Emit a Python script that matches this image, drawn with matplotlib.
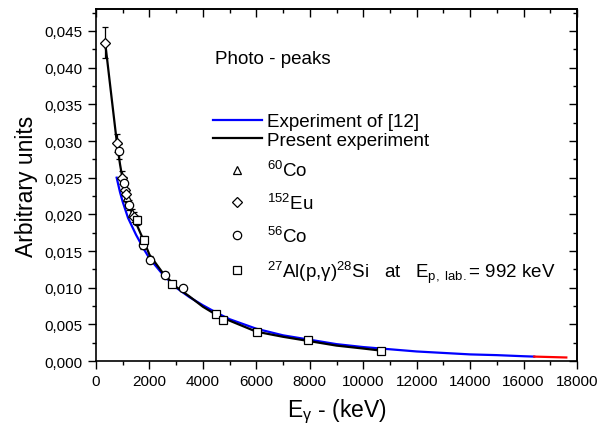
import matplotlib
matplotlib.use("Agg")
import matplotlib.pyplot as plt
from matplotlib.lines import Line2D
from matplotlib.ticker import FuncFormatter, MultipleLocator

plt.rcParams['font.family'] = ['Liberation Sans', 'DejaVu Sans']
plt.rcParams['mathtext.fontset'] = 'custom'
plt.rcParams['mathtext.rm'] = 'Liberation Sans'
plt.rcParams['mathtext.it'] = 'Liberation Sans'
plt.rcParams['mathtext.default'] = 'regular'

# ---- data ----
present_x = [344, 590, 780, 900, 1000, 1200, 1500, 1800, 2000, 2500, 3000, 3500,
             4000, 4500, 5000, 6000, 7000, 8000, 9000, 10000, 10700]
present_y = [0.0434, 0.0357, 0.0298, 0.0268, 0.0247, 0.0216, 0.0188, 0.0163, 0.0145,
             0.0120, 0.0101, 0.0088, 0.0074, 0.0063, 0.0055, 0.0040, 0.0033, 0.0027,
             0.0021, 0.0017, 0.0014]

ref12_x = [773, 900, 1000, 1200, 1500, 1800, 2000, 2500, 3000, 3500, 4000, 4500, 5000,
           6000, 7000, 8000, 9000, 10000, 11000, 12000, 13000, 14000, 15000, 16000, 16400]
ref12_y = [0.0250, 0.0230, 0.0217, 0.0195, 0.0172, 0.0152, 0.0140, 0.0118, 0.0100,
           0.0087, 0.0076, 0.0066, 0.0057, 0.0044, 0.0035, 0.0029, 0.0023, 0.0019,
           0.0016, 0.0013, 0.0011, 0.0009, 0.0008, 0.00065, 0.0006]

extrap_x = [16400, 17000, 17600]
extrap_y = [0.00060, 0.00054, 0.00048]

co60_x = [1173, 1332]
co60_y = [0.0223, 0.0202]
co60_err = [0.0006, 0.0005]

eu152_x = [344, 779, 964, 1086, 1112, 1408]
eu152_y = [0.0434, 0.0297, 0.0250, 0.0233, 0.0228, 0.0196]
eu152_err = [0.0021, 0.0012, 0.0009, 0.0008, 0.0008, 0.0007]

co56_x = [847, 1038, 1238, 1771, 2015, 2598, 3253]
co56_y = [0.0286, 0.0243, 0.0213, 0.0158, 0.0138, 0.0117, 0.0099]
co56_err = [0.0010, 0.0008, 0.0007, 0.0005, 0.0005, 0.0004, 0.0003]

al_x = [1523, 1779, 2839, 4497, 4742, 6020, 7931, 10680]
al_y = [0.0192, 0.0165, 0.0105, 0.0064, 0.0056, 0.0040, 0.0028, 0.0014]
al_err = [0.0006, 0.0005, 0.0003, 0.0002, 0.0002, 0.00015, 0.0001, 0.0001]

x_ticks = [0, 2000, 4000, 6000, 8000, 10000, 12000, 14000, 16000, 18000]
y_ticks = [0.000, 0.005, 0.010, 0.015, 0.020, 0.025, 0.030, 0.035, 0.040, 0.045]

# ---- figure ----
fig = plt.figure(figsize=(6.04, 4.27), dpi=100)
ax = fig.add_axes([96/604, 1-362/427, (577-96)/604, (362-10)/427])

ax.plot(ref12_x, ref12_y, color='#0000ff', lw=1.6, zorder=2)
ax.plot(extrap_x, extrap_y, color='#ff0000', lw=1.6, zorder=2)
ax.plot(present_x, present_y, color='black', lw=1.6, zorder=3)

mk = dict(mfc='white', mec='black', mew=0.9, ecolor='black', elinewidth=0.9,
          capsize=2.5, capthick=0.9, ls='none', zorder=4)
ax.errorbar(co60_x, co60_y, yerr=co60_err, marker='^', ms=5.5, **mk)
ax.errorbar(eu152_x, eu152_y, yerr=eu152_err, marker='D', ms=4.8, **mk)
ax.errorbar(co56_x, co56_y, yerr=co56_err, marker='o', ms=6, **mk)
ax.errorbar(al_x, al_y, yerr=al_err, marker='s', ms=5.5, **mk)

ax.set_xlim(0, 18000)
ax.set_ylim(0, 0.048)
ax.set_xticks(x_ticks)
ax.set_yticks(y_ticks)
ax.xaxis.set_minor_locator(MultipleLocator(1000))
ax.yaxis.set_minor_locator(MultipleLocator(0.0025))
ax.yaxis.set_major_formatter(FuncFormatter(lambda v, p: f'{v:.3f}'.replace('.', ',')))
ax.tick_params(which='major', direction='out', length=6, width=1.0, labelsize=11)
ax.tick_params(which='minor', direction='out', length=3, width=1.0)
for s in ax.spines.values():
    s.set_linewidth(1.2)

top = ax.secondary_xaxis('top')
top.set_xticks(x_ticks)
top.xaxis.set_minor_locator(MultipleLocator(1000))
top.tick_params(which='major', direction='in', length=6, width=1.0, labeltop=False)
top.tick_params(which='minor', direction='in', length=3, width=1.0)
right = ax.secondary_yaxis('right')
right.set_yticks(y_ticks)
right.yaxis.set_minor_locator(MultipleLocator(0.0025))
right.tick_params(which='major', direction='in', length=6, width=1.0, labelright=False)
right.tick_params(which='minor', direction='in', length=3, width=1.0)
top.spines['top'].set_linewidth(1.2)
right.spines['right'].set_linewidth(1.2)

ax.set_xlabel(r'E$_{\gamma}$ - (keV)', fontsize=16.5, labelpad=6)
ax.set_ylabel('Arbitrary units', fontsize=16.5, labelpad=5)

fig.text(215/604, 1-60/427, 'Photo - peaks', fontsize=13.5, va='center', ha='left')

h1 = [Line2D([], [], color='#0000ff', lw=1.6), Line2D([], [], color='black', lw=1.6)]
leg1 = ax.legend(h1, ['Experiment of [12]', 'Present experiment'], frameon=False,
                 fontsize=13.5, handlelength=2.6, handletextpad=0.27, labelspacing=0.07,
                 borderpad=0, borderaxespad=0, loc='upper left',
                 bbox_to_anchor=(213/604, 1-114/427), bbox_transform=fig.transFigure)
ax.add_artist(leg1)

mkl = dict(ls='none', mfc='white', mec='black', mew=0.9)
h2 = [Line2D([], [], marker='^', ms=6, **mkl),
      Line2D([], [], marker='D', ms=5, **mkl),
      Line2D([], [], marker='o', ms=6, **mkl),
      Line2D([], [], marker='s', ms=6, **mkl)]
labels2 = [r'$^{60}$Co', r'$^{152}$Eu', r'$^{56}$Co',
           r'$^{27}$Al(p,$\gamma$)$^{28}$Si   at   E$_{\mathrm{p,\ lab.}}$= 992 keV']
leg2 = ax.legend(h2, labels2, frameon=False, fontsize=13.5, handlelength=2.6,
                 handletextpad=0.27, labelspacing=0.68, borderpad=0, borderaxespad=0,
                 loc='upper left', bbox_to_anchor=(213/604, 1-161/427),
                 bbox_transform=fig.transFigure)

fig.savefig('out.png', dpi=100)
